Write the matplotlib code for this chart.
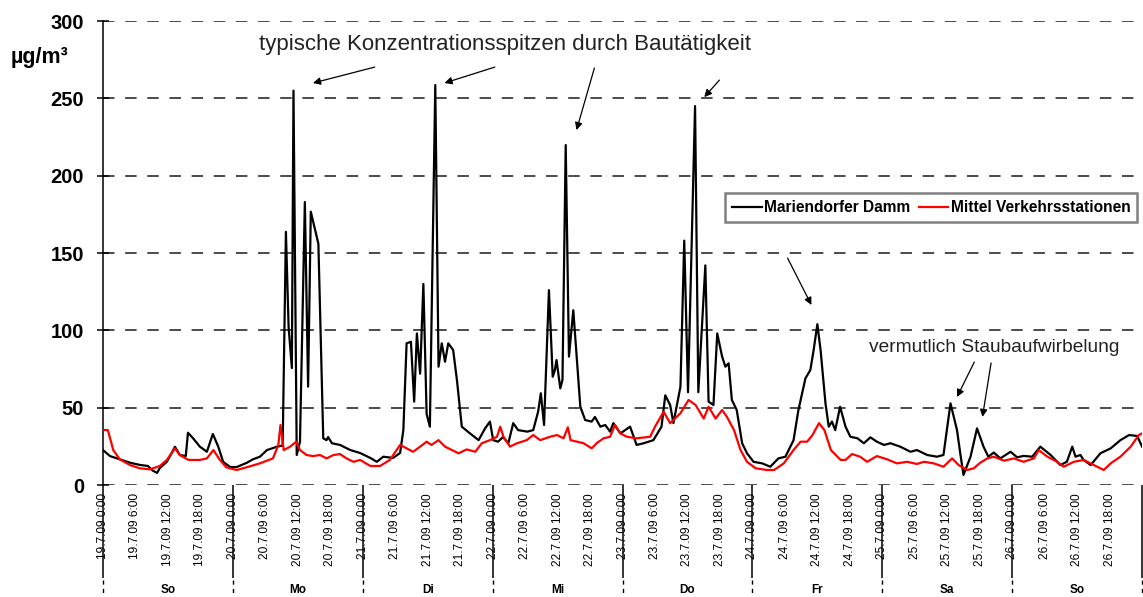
import numpy as np
import matplotlib
matplotlib.use('Agg')
import matplotlib.pyplot as plt
import matplotlib.transforms as mtransforms

plt.rcParams['font.family'] = ['Liberation Sans', 'DejaVu Sans']

# Stunden seit 19.7.09 0:00 und Werte (µg/m³)
black_t = [0, 1.3, 3.1, 5.0, 6.8, 8.3, 9.2, 10.0, 10.5, 11.8, 13.3, 14.2, 15.3, 15.7, 16.6, 17.9, 19.2, 20.3, 21.3, 22.2, 23.5,
           24.7, 26.6, 27.7, 29.0, 30.3, 32.2, 33.2, 33.8, 34.3, 34.9, 35.2, 35.8, 36.4, 37.3, 37.9, 38.4, 39.8, 40.7, 41.3,
           41.6, 42.3, 43.8, 45.7, 47.5,
           49.4, 50.6, 51.8, 53.6, 54.9, 55.5, 56.1, 56.9, 57.5, 58.0, 58.6, 59.2, 59.8, 60.4, 61.4, 62.0, 62.6, 63.2, 63.8,
           64.7, 65.4, 66.3, 67.8, 69.4, 70.6, 71.5,
           72.1, 73.0, 73.9, 74.9, 75.8, 76.7, 78.4, 79.5, 80.4, 80.9, 81.5, 82.4, 83.1, 83.5, 83.8, 84.5, 84.9, 85.5, 86.1,
           86.9, 88.2, 89.1, 90.3, 90.9, 91.9, 92.8, 93.7, 94.3, 95.6,
           97.4, 98.6, 99.9, 101.7, 103.2, 103.9, 104.8, 105.4, 106.7, 107.4, 108.1, 109.4, 110.0, 111.3, 111.9, 112.8, 113.5,
           114.4, 115.0, 115.6, 116.2, 117.1, 118.1, 119.0,
           120.2, 121.8, 123.3, 124.8, 126.1, 127.6, 128.5, 129.8, 130.7, 131.3, 132.0, 132.6, 133.5, 134.1, 134.7, 135.3,
           136.2, 137.2, 138.1, 139.4, 140.6, 141.8, 143.0,
           144.3, 145.5, 147.3, 149.2, 150.4, 152.3, 154.1, 155.3, 156.6, 157.8, 158.4, 159.0, 160.3, 161.5, 162.7, 163.6,
           164.6, 165.8, 167.7,
           168.9, 170.1, 171.7, 173.2, 175.1, 176.9, 178.1, 179.1, 179.7, 180.6, 181.2, 182.5, 184.3, 186.2, 188.0, 189.6,
           191.1, 192.0]
black_v = [22.6, 18.7, 16.6, 14.4, 13.0, 12.3, 9.3, 7.8, 11.0, 15.0, 24.7, 19.4, 18.7, 33.8, 30.4, 24.8, 21.5, 33.0, 24.8, 15.0, 11.6,
           11.6, 14.4, 16.6, 18.3, 22.6, 24.8, 25.5, 163.7, 102, 75.6, 255, 19.4, 28, 183, 63.6, 176.7, 156, 30.2, 29,
           31, 27, 25.9, 22.6, 20.7,
           17.5, 15.0, 18.3, 17.5, 20.7, 35.5, 91.6, 92.6, 53.9, 98, 72, 130, 46, 37.7, 258.6, 76.5, 91.6, 79.7, 91.6,
           87.3, 67.9, 37.7, 33.4, 29.0, 36.6, 41.0,
           29.0, 28.0, 31.0, 27.0, 40.0, 35.5, 34.5, 35.5, 47.4, 59.3, 38.8, 126, 70, 74.3, 80.8, 62.5, 67.9, 219.8, 83,
           113, 50.6, 42, 41, 44, 37.7, 38.8, 34.5, 40.0, 33.4,
           37.7, 25.9, 27.0, 29.0, 37.7, 58.0, 51.7, 40.0, 63.5, 158, 60, 245, 60, 142, 53.9, 51.7, 98,
           83, 76.5, 78.7, 55, 48.5, 27, 20.5,
           15.0, 14.0, 11.8, 17.2, 18.3, 29.0, 48.5, 69.0, 74.3, 87.0, 104, 87.0, 52.8, 37.7, 41.0, 35.5,
           50.6, 37.7, 31.2, 30.2, 27.0, 30.8, 28.0,
           25.9, 27.0, 24.8, 21.5, 22.6, 19.4, 18.3, 19.4, 52.8, 35.5, 20.5, 6.5, 18.3, 36.6, 24.8, 18.3,
           21.0, 17.2, 21.5,
           17.9, 18.8, 18.3, 24.8, 19.4, 12.9, 15.0, 24.8, 18.3, 19.4, 16.2, 12.9, 20.5, 23.7, 29.0, 32.3,
           31.7, 24.8]

red_t = [0, 0.9, 1.9, 3.1, 5.0, 6.8, 8.7, 10.5, 11.8, 13.3, 14.2, 15.8, 17.9, 19.2, 20.4, 21.6, 22.8,
         24.7, 26.5, 29.0, 31.4, 32.4, 32.8, 33.4, 34.6, 35.7, 36.4, 37.6, 38.8, 40.1, 41.3, 42.6, 43.8, 45.0, 46.3, 47.5,
         49.4, 51.2, 53.0, 54.9, 56.1, 57.3, 58.6, 59.8, 60.7, 62.0, 63.2, 64.5, 65.7, 67.2, 68.8, 70.0, 71.5,
         72.8, 73.4, 74.0, 75.2, 76.5, 78.3, 79.5, 80.8, 82.6, 83.9, 85.1, 85.9, 86.4, 87.6, 88.8, 90.3, 91.2, 92.5, 93.7,
         94.6, 95.6,
         96.8, 98.6, 101.1, 102.0, 103.6, 104.8, 106.7, 108.2, 109.5, 111.0, 111.9, 113.2, 114.4, 115.3, 116.6, 117.8, 119.0,
         120.6, 122.7, 124.0, 125.8, 127.6, 128.9, 130.1, 131.1, 132.3, 133.3, 134.5, 136.3, 137.2, 138.4, 139.9, 141.2, 143.0,
         144.9, 146.7, 148.6, 150.4, 151.7, 153.5, 155.3, 156.9, 158.1, 159.7, 160.9, 162.1, 163.4, 164.6, 166.5,
         168.3, 170.1, 172.0, 172.9, 174.5, 176.3, 177.5, 179.4, 181.2, 183.1, 184.9, 186.2, 188.0, 189.9, 191.4, 192.0]
red_v = [35.5, 35.5, 22.6, 16.6, 12.9, 10.8, 10.1, 12.3, 16.2, 23.7, 19.4, 16.2, 16.2, 17.2, 22.6, 16.2, 11.4,
         9.7, 11.4, 14.0, 17.2, 25.9, 38.8, 22.6, 24.8, 28.0, 22.6, 19.4, 18.7, 19.4, 17.2, 19.4, 20.0, 17.2, 15.0, 16.2,
         12.3, 12.3, 16.2, 25.9, 23.7, 21.5, 24.8, 28.0, 25.9, 29.0, 24.8, 22.6, 20.5, 23.0, 21.5, 27.0, 29.0,
         31.2, 37.7, 31.2, 24.8, 27.0, 29.0, 32.3, 29.0, 31.2, 32.3, 30.2, 37.3, 29.0, 28.0, 27.0, 23.7, 27.0, 30.2, 31.2,
         38.8, 33.4,
         31.2, 30.2, 31.2, 37.7, 47.4, 40.0, 46.4, 55.0, 51.7, 43.0, 50.6, 43.0, 48.5, 44.0, 35.5, 22.6, 15.0,
         10.8, 9.7, 9.7, 14.0, 22.6, 28.0, 28.0, 32.3, 40.0, 35.5, 22.6, 16.2, 16.2, 20.0, 18.3, 15.0, 18.7,
         16.6, 14.0, 15.0, 13.6, 15.0, 14.0, 11.8, 17.2, 12.9, 9.7, 10.8, 14.4, 17.2, 18.3, 15.7,
         17.2, 15.0, 17.2, 22.6, 18.3, 15.0, 11.8, 15.0, 16.2, 12.9, 9.7, 14.0, 18.3, 24.8, 32.3, 33.4]

dates = ['19.7.09', '20.7.09', '21.7.09', '22.7.09', '23.7.09', '24.7.09', '25.7.09', '26.7.09']
hours = ['0:00', '6:00', '12:00', '18:00']
weekdays = ['So', 'Mo', 'Di', 'Mi', 'Do', 'Fr', 'Sa', 'So']

fig = plt.figure(figsize=(11.43, 5.97), dpi=100)
ax = fig.add_axes([0.0901, 0.1876, 0.9091, 0.7772])

ax.plot(black_t, black_v, color='black', lw=1.6, label='Mariendorfer Damm', zorder=3)
ax.plot(red_t, red_v, color='#ff0000', lw=1.6, label='Mittel Verkehrsstationen', zorder=3)

ax.set_xlim(0, 24 * len(dates))
ax.set_ylim(0, 300)
ax.set_yticks(np.arange(0, 301, 50))
ax.grid(axis='y', color='#1a1a1a', lw=1.1, ls=(0, (7.5, 7)))
for s in ['top', 'right', 'bottom']:
    ax.spines[s].set_visible(False)
ax.spines['left'].set_linewidth(1.1)

# Beschriftung alle 6 Stunden, Tagesgrenzen als lange Striche
ax.xaxis.remove_overlapping_locs = False
ax.set_xticks(np.arange(0, 24 * len(dates), 6))
ax.set_xticklabels([d + ' ' + h for d in dates for h in hours], rotation=90, fontsize=8.6)
ax.set_xticks(np.arange(0, 24 * len(dates) + 1, 24), minor=True)
ax.tick_params(axis='x', which='major', length=0, pad=6)
ax.tick_params(axis='x', which='minor', direction='out', length=67, width=1.1)
ax.tick_params(axis='y', direction='inout', length=9, width=1.1, pad=9)
for lab in ax.get_yticklabels():
    lab.set_fontsize(14.5)
    lab.set_fontweight('bold')

trans = mtransforms.blended_transform_factory(ax.transData, ax.transAxes)
for i, wd in enumerate(weekdays):
    ax.text(24 * i + 12, -0.226, wd, transform=trans, ha='center', va='center',
            fontsize=8.5, fontweight='bold')
for i in range(len(dates) + 1):
    ax.plot([24 * i, 24 * i], [-0.205, -0.245], transform=trans, color='k', lw=1,
            ls=(0, (3, 3)), clip_on=False)

fig.text(0.009, 1 - 58 / 597, 'µg/m³', fontsize=15.5, fontweight='bold', va='center', ha='left')

leg = ax.legend(loc='upper left', bbox_to_anchor=(0.5987, 0.629), ncol=2, fancybox=False,
                framealpha=1, edgecolor='#808080', handlelength=1.9, handletextpad=0.15,
                columnspacing=0.55, borderpad=0.45, borderaxespad=0,
                prop={'weight': 'bold', 'size': 11.2})
leg.get_frame().set_linewidth(1.8)

txt_col = '#222222'
ax.text(74.2, 285, 'typische Konzentrationsspitzen durch Bautätigkeit', ha='center', va='center',
        fontsize=16, color=txt_col)
ax.text(164.7, 88.6, 'vermutlich Staubaufwirbelung', ha='center', va='center', fontsize=13.8, color=txt_col)

arrows = [((50.2, 270.2), (38.8, 259.9)),
          ((72.4, 270.2), (63.1, 259.9)),
          ((90.8, 269.6), (87.5, 229.5)),
          ((113.9, 261.8), (111.1, 250.8)),
          ((126.5, 146.7), (130.9, 116.4)),
          ((161.0, 79.5), (157.8, 56.9)),
          ((164.1, 78.9), (162.5, 44.0))]
for tail, head in arrows:
    ax.annotate('', xy=head, xytext=tail,
                arrowprops=dict(arrowstyle='-|>', color='k', lw=0.9, mutation_scale=11,
                                shrinkA=0, shrinkB=0))

fig.savefig('out.png', dpi=100)
